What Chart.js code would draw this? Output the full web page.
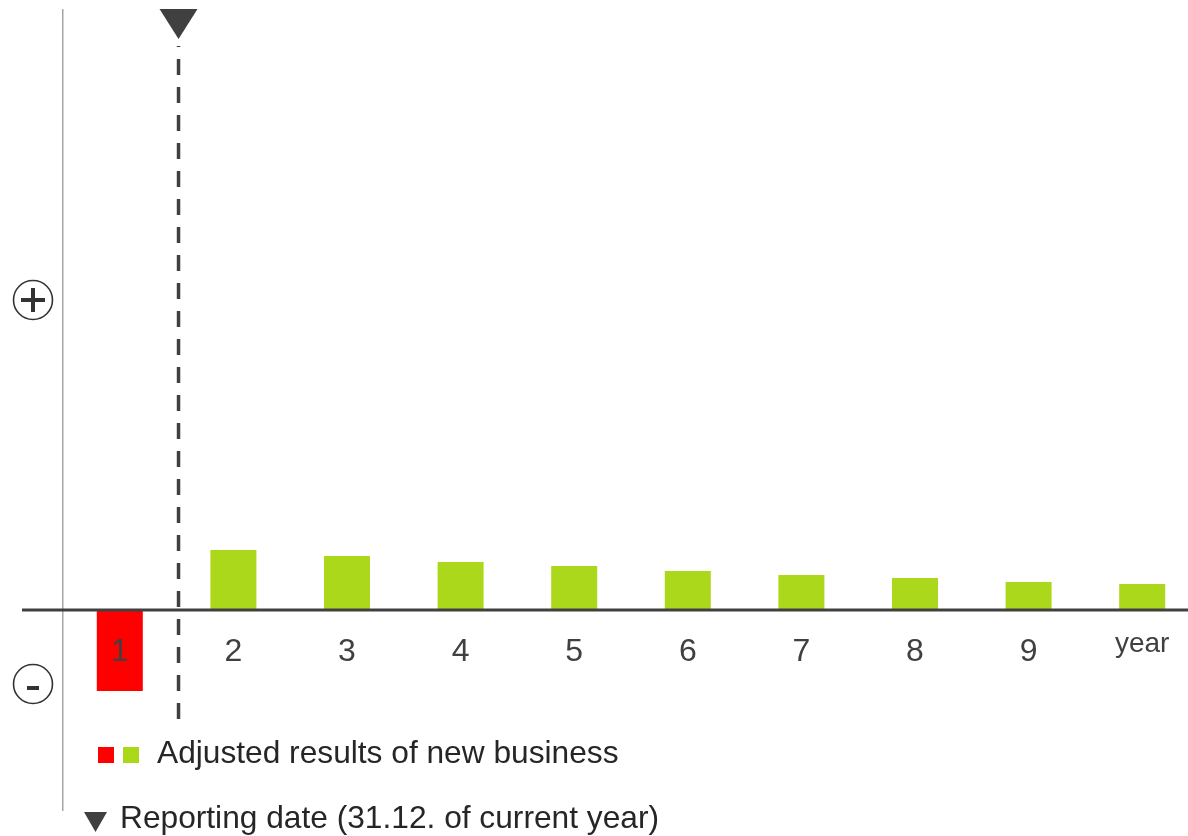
<!DOCTYPE html>
<html>
<head>
<meta charset="utf-8">
<script src="https://cdn.jsdelivr.net/npm/chart.js@4"></script>
<style>
  html, body { margin: 0; padding: 0; background: #ffffff; }
  #wrap { width: 1188px; height: 836px; overflow: hidden; position: relative; }
  canvas { display: block; }
</style>
</head>
<body>
<div id="wrap"><canvas id="c" width="1199" height="836"></canvas></div>
<script>
// ---- data ----
const categories = ['1', '2', '3', '4', '5', '6', '7', '8', '9', 'year'];
const adjustedResults = [-81, 60, 54, 48, 44, 39, 35, 32, 28, 26];
const yRange = [-200, 600];
const legendText = 'Adjusted results of new business';
const reportingText = 'Reporting date (31.12. of current year)';
const reportingPosition = 0.517; // between year 1 and year 2 (category index units)

// ---- styles ----
const FONT = "'Liberation Sans', Arial, Helvetica, sans-serif";
const RED = '#ff0000';
const GREEN = '#acd81c';
const DARK = '#404040';
const TEXT = '#262626';

const decorations = {
  id: 'decorations',
  afterDatasetsDraw(chart) {
    const ctx = chart.ctx;
    const x = chart.scales.x, y = chart.scales.y;
    const y0 = y.getPixelForValue(0);
    ctx.save();
    // baseline
    ctx.strokeStyle = DARK;
    ctx.lineWidth = 3;
    ctx.beginPath();
    ctx.moveTo(22, y0);
    ctx.lineTo(chart.width, y0);
    ctx.stroke();
    // reporting date dashed line
    const rx = x.getPixelForValue(reportingPosition);
    ctx.lineWidth = 3.5;
    ctx.setLineDash([16, 12]);
    ctx.beginPath();
    ctx.moveTo(rx, 719);
    ctx.lineTo(rx, 46);
    ctx.stroke();
    ctx.setLineDash([]);
    // triangle marker
    ctx.fillStyle = DARK;
    ctx.beginPath();
    ctx.moveTo(rx - 19, 9);
    ctx.lineTo(rx + 19, 9);
    ctx.lineTo(rx, 39);
    ctx.closePath();
    ctx.fill();
    ctx.restore();
  },
  afterDraw(chart) {
    const ctx = chart.ctx;
    ctx.save();
    // plus / minus circles
    ctx.strokeStyle = '#333333';
    ctx.fillStyle = '#333333';
    ctx.lineWidth = 1.6;
    ctx.beginPath();
    ctx.arc(33, 300, 19.5, 0, Math.PI * 2);
    ctx.stroke();
    ctx.fillRect(21, 298, 24, 4);
    ctx.fillRect(31, 288, 4, 24);
    ctx.beginPath();
    ctx.arc(33, 684, 19.5, 0, Math.PI * 2);
    ctx.stroke();
    ctx.fillRect(27, 686, 12, 4);
    // legend 1
    ctx.fillStyle = RED;
    ctx.fillRect(98, 747, 16, 16);
    ctx.fillStyle = GREEN;
    ctx.fillRect(123, 747, 16, 16);
    ctx.fillStyle = TEXT;
    ctx.font = '31.7px ' + FONT;
    ctx.textBaseline = 'alphabetic';
    ctx.textAlign = 'left';
    ctx.fillText(legendText, 157, 763);
    // legend 2
    ctx.fillStyle = DARK;
    ctx.beginPath();
    ctx.moveTo(84, 812);
    ctx.lineTo(107, 812);
    ctx.lineTo(95.5, 832);
    ctx.closePath();
    ctx.fill();
    ctx.fillStyle = TEXT;
    ctx.fillText(reportingText, 120, 828);
    ctx.restore();
  }
};

new Chart(document.getElementById('c'), {
  type: 'bar',
  data: {
    labels: categories,
    datasets: [{
      label: legendText,
      data: adjustedResults,
      backgroundColor: adjustedResults.map(v => v < 0 ? RED : GREEN),
      borderWidth: 0,
      barPercentage: 0.405,
      categoryPercentage: 1
    }]
  },
  options: {
    responsive: false,
    animation: false,
    events: [],
    layout: { padding: { left: 63, top: 10, bottom: 26, right: 0 } },
    plugins: { legend: { display: false }, tooltip: { enabled: false } },
    scales: {
      x: {
        position: { y: 0 },
        z: 1,
        grid: { display: false, drawTicks: false },
        border: { display: false },
        ticks: {
          z: 1,
          color: DARK,
          padding: 23,
          maxRotation: 0,
          autoSkip: false,
          font: (ctx) => ctx.index === categories.length - 1
            ? { family: FONT, size: 28, lineHeight: 0.8 }
            : { family: FONT, size: 32, lineHeight: 1.2 }
        }
      },
      y: {
        min: yRange[0],
        max: yRange[1],
        grid: { display: false, drawTicks: false },
        border: { display: true, color: '#a6a6a6', width: 1.5 },
        ticks: { display: false }
      }
    }
  },
  plugins: [decorations]
});
</script>
</body>
</html>
